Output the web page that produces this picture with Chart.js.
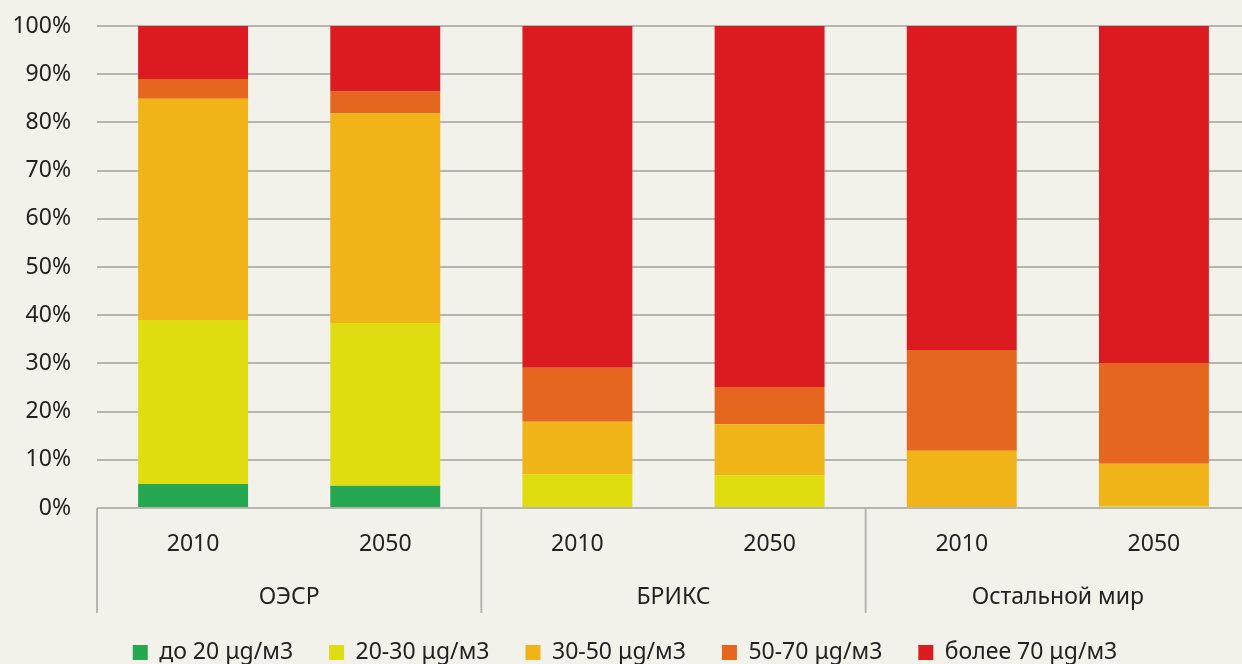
<!DOCTYPE html>
<html lang="ru">
<head>
    <meta charset="UTF-8">
    <title>Chart</title>
    <script src="https://cdn.jsdelivr.net/npm/chart.js@4"></script>
    <style>
        body { margin: 0; background: #f2f1ea; overflow: hidden; }
    </style>
</head>
<body>
    <!-- a bit wider than the window: the plot runs past the right edge like the original -->
    <canvas id="pmChart" width="1250" height="664"></canvas>
<script>
  // categories
  const years = ['2010', '2050', '2010', '2050', '2010', '2050'];
  const groups = ['ОЭСР', 'БРИКС', 'Остальной мир'];

  // series values (% of population)
  const upTo20 = [5.0, 4.6, 0, 0, 0, 0.2];
  const from20to30 = [34.0, 33.8, 7.0, 6.8, 0, 0.1];
  const from30to50 = [45.9, 43.5, 10.9, 10.6, 11.9, 8.9];
  const from50to70 = [4.1, 4.5, 11.2, 7.7, 20.9, 20.9];
  const over70 = [11.0, 13.6, 70.9, 74.9, 67.2, 69.9];

  const seriesNames = ['до 20 μg/м3', '20-30 μg/м3', '30-50 μg/м3', '50-70 μg/м3', 'более 70 μg/м3'];

  const gridColor = '#b6b6b1';
  const textColor = '#222222';
  const font = { family: '"Noto Sans", sans-serif', size: 23 };

  // draws the second row of the x axis (region names) and the separators
  const groupLabels = {
    id: 'groupLabels',
    afterDraw(chart) {
      const { ctx, chartArea, scales: { x } } = chart;
      const per = years.length / groups.length;
      const bottom = chartArea.bottom;
      ctx.save();
      ctx.strokeStyle = gridColor;
      ctx.lineWidth = 2;
      for (let g = 0; g <= groups.length; g++) {
        let xb;
        if (g === 0) xb = chartArea.left;
        else if (g === groups.length) xb = chartArea.right;
        else xb = (x.getPixelForValue(g * per - 1) + x.getPixelForValue(g * per)) / 2;
        ctx.beginPath();
        ctx.moveTo(xb, bottom);
        ctx.lineTo(xb, bottom + 105);
        ctx.stroke();
      }
      ctx.fillStyle = textColor;
      ctx.font = font.size + 'px ' + font.family;
      ctx.textAlign = 'center';
      ctx.textBaseline = 'middle';
      groups.forEach((name, g) => {
        const cx = (x.getPixelForValue(g * per) + x.getPixelForValue(g * per + per - 1)) / 2;
        ctx.fillText(name, cx, bottom + 89);
      });
      ctx.restore();
    }
  };

  const colors = ['#26a852', '#dfdd10', '#f0b418', '#e5661e', '#dc1b21'];
  const values = [upTo20, from20to30, from30to50, from50to70, over70];

  const ctx = document.getElementById('pmChart').getContext('2d');
  new Chart(ctx, {
    type: 'bar',
    data: {
      labels: years,
      datasets: values.map((v, i) => ({
        label: seriesNames[i],
        data: v,
        backgroundColor: colors[i],
        borderWidth: 0,
        barPercentage: 0.572,
        categoryPercentage: 1.0,
      })),
    },
    options: {
      responsive: false,
      animation: false,
      layout: { padding: { top: 26, right: 0, left: 0, bottom: 0 } },
      plugins: {
        tooltip: { enabled: false },
        legend: {
          position: 'bottom',
          maxHeight: 59,
          labels: {
            boxWidth: 15,
            boxHeight: 15,
            padding: 36,
            color: textColor,
            font: font,
          },
        },
      },
      scales: {
        x: {
          stacked: true,
          grid: { display: false },
          border: { display: false },
          ticks: { color: textColor, font: font, padding: 15, maxRotation: 0 },
          afterFit(scale) { scale.height = 97; },
        },
        y: {
          stacked: true,
          min: 0,
          max: 100,
          grid: { color: gridColor, lineWidth: 2, drawTicks: false },
          border: { display: false },
          ticks: {
            stepSize: 10,
            color: textColor,
            font: font,
            padding: 26,
            callback: v => v + '%',
          },
          afterFit(scale) {
            scale.width = 97;
            scale.paddingTop = 0;
            scale.paddingBottom = 0;
          },
        },
      },
    },
    plugins: [groupLabels],
  });
</script>
</body>
</html>
